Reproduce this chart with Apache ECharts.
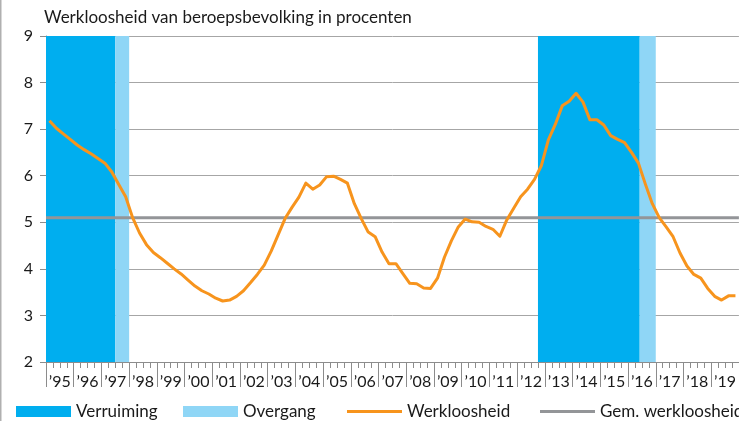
<!DOCTYPE html>
<html>
<head>
<meta charset="utf-8">
<script src="https://cdn.jsdelivr.net/npm/echarts@6/dist/echarts.min.js"></script>
<style>
html,body{margin:0;padding:0;background:#fff;}
#chart{width:739px;height:421px;}
</style>
</head>
<body>
<div id="chart"></div>
<script>
// ---- data ----
const title = 'Werkloosheid van beroepsbevolking in procenten';
const yearLabels = ['’95','’96','’97','’98','’99','’00','’01','’02','’03','’04','’05','’06','’07','’08','’09','’10','’11','’12','’13','’14','’15','’16','’17','’18','’19'];
const firstYear = 1995;
// quarterly unemployment (%), 1995Q1 .. 2019Q4
const werkloosheid = [
  7.18, 7.02, 6.90, 6.78,
  6.66, 6.56, 6.47, 6.37,
  6.27, 6.08, 5.81, 5.55,
  5.10, 4.77, 4.52, 4.35,
  4.24, 4.12, 4.00, 3.89,
  3.76, 3.63, 3.53, 3.46,
  3.37, 3.31, 3.33, 3.41,
  3.53, 3.70, 3.88, 4.08,
  4.38, 4.73, 5.08, 5.32,
  5.54, 5.84, 5.71, 5.80,
  5.98, 5.99, 5.92, 5.84,
  5.40, 5.08, 4.79, 4.69,
  4.36, 4.11, 4.11, 3.90,
  3.69, 3.68, 3.59, 3.58,
  3.80, 4.25, 4.60, 4.90,
  5.07, 5.01, 5.00, 4.91,
  4.85, 4.70, 5.05, 5.30,
  5.55, 5.71, 5.92, 6.22,
  6.77, 7.10, 7.50, 7.60,
  7.77, 7.58, 7.20, 7.20,
  7.09, 6.86, 6.78, 6.71,
  6.50, 6.27, 5.82, 5.40,
  5.10, 4.90, 4.69, 4.34,
  4.06, 3.88, 3.80, 3.58,
  3.41, 3.33, 3.42, 3.42
];
const gemWerkloosheid = 5.1;
// periods (decimal years)
const verruiming = [[1995, 1997.5], [2012.75, 2016.42]];
const overgang = [[1997.5, 1998.0], [2016.42, 2017.0]];

const xMin = 1995, xMax = 2020;
const lineData = werkloosheid.map((v, i) => [firstYear + (i + 0.5) / 4, v]);

const FONT = 'Lato';
const TXT = '#1a1a1a';
const GRID = '#a6a6a6';

const chart = echarts.init(document.getElementById('chart'), null, {renderer: 'canvas'});
const legendBase = {
  orient: 'horizontal', top: 403, padding: 0, itemWidth: 55, itemHeight: 11, itemGap: 5,
  textStyle: {fontFamily: FONT, fontSize: 17, color: TXT}
};
chart.setOption({
  animation: false,
  backgroundColor: '#fff',
  textStyle: {fontFamily: FONT},
  graphic: [
    {type: 'rect', shape: {x: 0, y: 0, width: 1.5, height: 421}, style: {fill: '#b0b0b0'}},
    {type: 'text', left: 44, top: 9, style: {text: title, font: '17px ' + FONT, fill: TXT}}
  ],
  grid: {left: 46, right: -2, top: 36, bottom: 59, containLabel: false},
  legend: [
    Object.assign({}, legendBase, {left: 16, data: [{name: 'Verruiming', icon: 'rect'}]}),
    Object.assign({}, legendBase, {left: 183, data: [{name: 'Overgang', icon: 'rect'}]}),
    Object.assign({}, legendBase, {left: 347, itemHeight: 3, data: [{name: 'Werkloosheid', icon: 'rect'}]}),
    Object.assign({}, legendBase, {left: 540, itemHeight: 3, data: [{name: 'Gem. werkloosheid', icon: 'rect'}]})
  ],
  xAxis: [
    {type: 'value', min: xMin, max: xMax, interval: 0.25, position: 'bottom',
     axisLine: {show: true, lineStyle: {color: '#8c8c8c', width: 1}},
     axisTick: {show: true, length: 6, lineStyle: {color: '#8c8c8c'}},
     axisLabel: {show: false}, splitLine: {show: false}},
    {type: 'value', min: xMin, max: xMax, interval: 1, position: 'bottom',
     axisLine: {show: false},
     axisTick: {show: true, length: 25, lineStyle: {color: '#8c8c8c'}},
     axisLabel: {show: false}, splitLine: {show: false}},
    {type: 'category', data: yearLabels, position: 'bottom', boundaryGap: true,
     axisLine: {show: false}, axisTick: {show: false},
     axisLabel: {show: true, margin: 12, fontFamily: FONT, fontSize: 16, color: TXT, interval: 0},
     splitLine: {show: false}}
  ],
  yAxis: {
    type: 'value', min: 2, max: 9, interval: 1,
    axisLine: {show: true, lineStyle: {color: '#8c8c8c'}},
    axisTick: {show: true, length: 6, lineStyle: {color: '#8c8c8c'}},
    axisLabel: {margin: 13, fontFamily: FONT, fontSize: 16, color: TXT},
    splitLine: {show: true, lineStyle: {color: GRID, width: 1}}
  },
  series: [
    {name: 'Verruiming', type: 'line', xAxisIndex: 0, data: [], color: '#00aeef',
     itemStyle: {color: '#00aeef'}, lineStyle: {color: '#00aeef'},
     markArea: {silent: true, itemStyle: {color: '#00aeef', opacity: 1},
       data: verruiming.map(p => [{xAxis: p[0]}, {xAxis: p[1]}])}},
    {name: 'Overgang', type: 'line', xAxisIndex: 0, data: [], color: '#8fd6f6',
     itemStyle: {color: '#8fd6f6'}, lineStyle: {color: '#8fd6f6'},
     markArea: {silent: true, itemStyle: {color: '#8fd6f6', opacity: 1},
       data: overgang.map(p => [{xAxis: p[0]}, {xAxis: p[1]}])}},
    {name: 'Gem. werkloosheid', type: 'line', xAxisIndex: 0, z: 3,
     data: [[xMin, gemWerkloosheid], [xMax, gemWerkloosheid]],
     showSymbol: false, symbol: 'none', color: '#939598',
     itemStyle: {color: '#939598'}, lineStyle: {color: '#939598', width: 3}},
    {name: 'Werkloosheid', type: 'line', xAxisIndex: 0, z: 4, data: lineData,
     showSymbol: false, symbol: 'none', color: '#f7941d',
     itemStyle: {color: '#f7941d'}, lineStyle: {color: '#f7941d', width: 3, join: 'round'}}
  ]
});
</script>
</body>
</html>
